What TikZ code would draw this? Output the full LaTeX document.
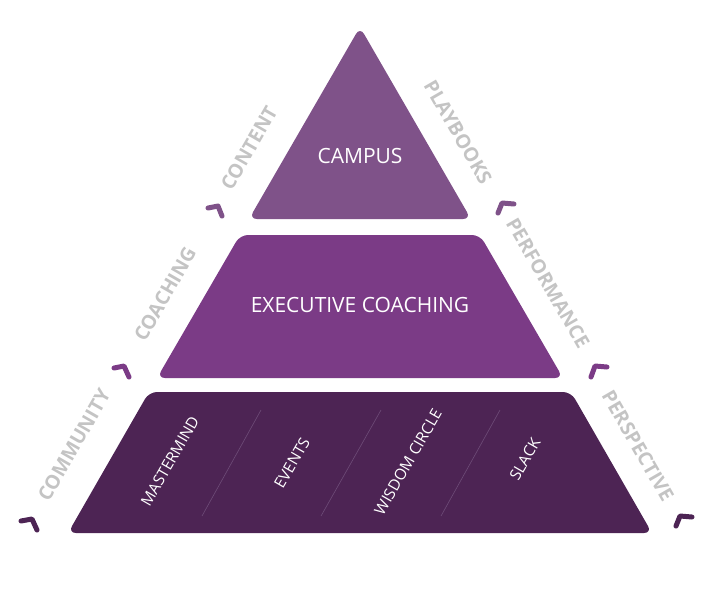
\documentclass[tikz,border=0pt]{standalone}
\usepackage{fontspec}
\setmainfont{Open Sans}
\definecolor{tiertop}{HTML}{7F5289}
\definecolor{tiermid}{HTML}{7B3B86}
\definecolor{tierbot}{HTML}{4D2454}
\definecolor{sidegrey}{HTML}{C4C4C4}
\definecolor{divline}{HTML}{6E4C78}
\begin{document}
\begin{tikzpicture}[x=1pt,y=-1pt,
  tier/.style={rounded corners=8pt},
  tiertext/.style={text=white,font=\fontsize{21}{23}\selectfont},
  celltext/.style={text=white,font=\fontsize{15.5}{17}\selectfont,rotate=60},
  sidel/.style={text=sidegrey,font=\bfseries\fontsize{19.5}{21}\selectfont,rotate=60},
  sider/.style={text=sidegrey,font=\bfseries\fontsize{19.5}{21}\selectfont,rotate=-60},
  chev/.style={line width=5pt,line cap=round,line join=round},
  divider/.style={draw=divline,line width=0.6pt}]
\useasboundingbox (0,0) rectangle (714,590);
% tiers
\fill[tiertop,tier] (360,27) -- (471,219) -- (249,219) -- cycle;
\fill[tiermid,tier] (240,235) -- (480,235) -- (563,378) -- (157,378) -- cycle;
\fill[tierbot,tier] (149,392) -- (571,392) -- (652,533) -- (68,533) -- cycle;
% dividers
\coordinate (d1t) at (261,410); \coordinate (d1b) at (202,516);
\coordinate (d2t) at (381,410); \coordinate (d2b) at (321,516);
\coordinate (d3t) at (500,410); \coordinate (d3b) at (441,516);
\draw[divider] (d1t) -- (d1b);
\draw[divider] (d2t) -- (d2b);
\draw[divider] (d3t) -- (d3b);
% tier texts
\node[tiertext] (campus) at (360,156) {CAMPUS};
\node[tiertext] (exec) at (360,305) {EXECUTIVE COACHING};
\node[celltext] (mastermind) at (170,461) {MASTERMIND};
\node[celltext] (events) at (292,463) {EVENTS};
\node[celltext] (wisdom) at (408,462) {WISDOM CIRCLE};
\node[celltext] (slack) at (525,459) {SLACK};
% side labels
\node[sidel] (content) at (249,148) {CONTENT};
\node[sidel] (coaching) at (165,294) {COACHING};
\node[sidel] (community) at (74,445) {COMMUNITY};
\node[sider] (playbooks) at (458,132) {PLAYBOOKS};
\node[sider] (performance) at (548,283) {PERFORMANCE};
\node[sider] (perspective) at (638,446) {PERSPECTIVE};
% chevrons
\draw[chev,tiertop] (208,208) -- (218,206) -- (222,216);
\draw[chev,tiermid] (114,368) -- (124,366) -- (129,377);
\draw[chev,tierbot] (21,521) -- (32,519) -- (37,530);
\draw[chev,tiertop] (498,213) -- (502,203) -- (514,204);
\draw[chev,tiermid] (591,377) -- (595,366) -- (607,367);
\draw[chev,tierbot] (676,526) -- (680,516) -- (692,517);
\end{tikzpicture}
\end{document}
